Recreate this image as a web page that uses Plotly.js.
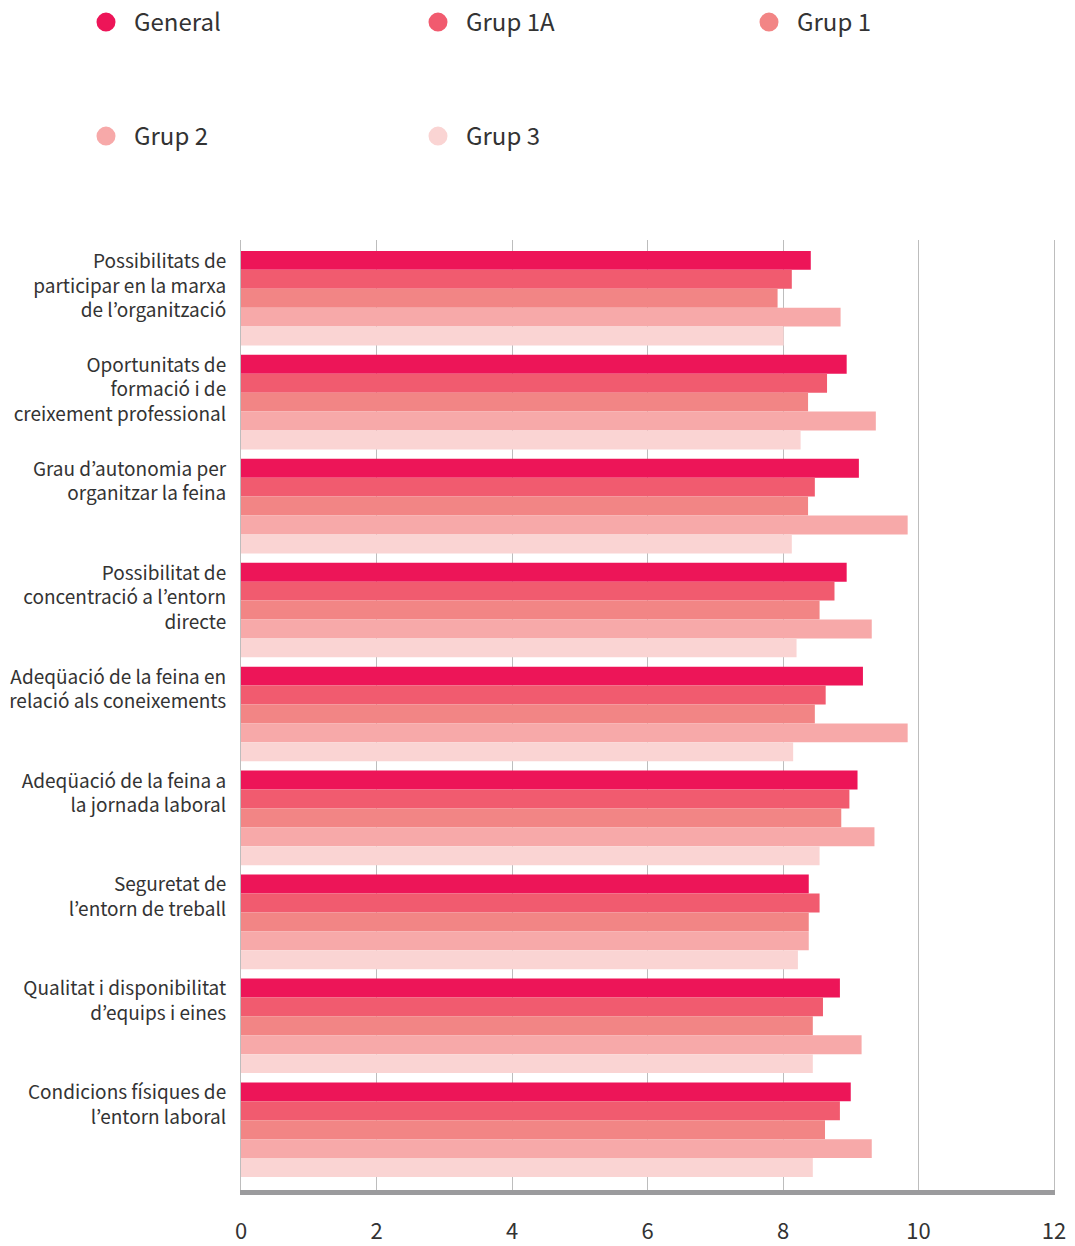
<!DOCTYPE html>
<html><head><meta charset="utf-8">
<script src="https://cdn.plot.ly/plotly-3.0.1.min.js"></script>
<style>html,body{margin:0;padding:0;background:#fff}#chart{width:1075px;height:1246px}</style>
</head><body><div id="chart"></div>
<script>
const categories = [
  "Possibilitats de<br>participar en la marxa<br>de l’organització",
  "Oportunitats de<br>formació i de<br>creixement professional",
  "Grau d’autonomia per<br>organitzar la feina",
  "Possibilitat de<br>concentració a l’entorn<br>directe",
  "Adeqüació de la feina en<br>relació als coneixements",
  "Adeqüació de la feina a<br>la jornada laboral",
  "Seguretat de<br>l’entorn de treball",
  "Qualitat i disponibilitat<br>d’equips i eines",
  "Condicions físiques de<br>l’entorn laboral"
];
const seriesNames = ["General", "Grup 1A", "Grup 1", "Grup 2", "Grup 3"];
const general = [8.41, 8.94, 9.12, 8.94, 9.18, 9.10, 8.38, 8.84, 9.00];
const grup1A  = [8.13, 8.65, 8.47, 8.76, 8.63, 8.98, 8.54, 8.59, 8.84];
const grup1   = [7.92, 8.37, 8.37, 8.54, 8.47, 8.86, 8.38, 8.44, 8.62];
const grup2   = [8.85, 9.37, 9.84, 9.31, 9.84, 9.35, 8.38, 9.16, 9.31];
const grup3   = [8.01, 8.26, 8.13, 8.20, 8.15, 8.54, 8.22, 8.44, 8.44];
const xTickVals = [0, 2, 4, 6, 8, 10, 12];

const colors = ["#ED1558", "#F15B6F", "#F28585", "#F7A9A9", "#FAD4D3"];
const values = [general, grup1A, grup1, grup2, grup3];
const legendFor = ["legend", "legend", "legend3", "legend2", "legend2"];

const FONT = '"Noto Sans CJK KR", "Noto Sans", sans-serif';

// pad labels to 4 lines so they sit at the top of each group
const tickText = categories.map(c => {
  const n = c.split("<br>").length;
  let s = c;
  for (let i = n; i < 4; i++) s += "<br>&nbsp;";
  return s;
});

const traces = [];
values.forEach((v, i) => {
  traces.push({
    type: "bar", orientation: "h", name: seriesNames[i],
    x: v, y: categories, marker: {color: colors[i]},
    showlegend: false, hoverinfo: "skip"
  });
});
values.forEach((v, i) => {
  traces.push({
    type: "scatter", mode: "markers", name: seriesNames[i],
    x: [null], y: [null], legend: legendFor[i],
    marker: {color: colors[i], size: 16, symbol: "circle", line: {color: colors[i], width: 3}},
    hoverinfo: "skip"
  });
});

const legendCommon = {
  orientation: "h", xref: "container", yref: "container",
  x: 78/1075, xanchor: "left", yanchor: "top",
  itemwidth: 46,
  entrywidth: 271, entrywidthmode: "pixels",
  font: {family: FONT, size: 24, color: "#333"},
  bgcolor: "rgba(0,0,0,0)", itemclick: false, itemdoubleclick: false
};

const layout = {
  width: 1075, height: 1246,
  paper_bgcolor: "#fff", plot_bgcolor: "#fff",
  margin: {l: 241, r: 21, t: 240, b: 56},
  barmode: "group", bargap: 0.09, bargroupgap: 0,
  showlegend: true,
  legend: Object.assign({}, legendCommon, {y: 1 - 0/1246}),
  legend3: Object.assign({}, legendCommon, {x: 741/1075, y: 1 - 0/1246}),
  legend2: Object.assign({}, legendCommon, {y: 1 - 114/1246}),
  xaxis: {
    range: [0, 12], tickvals: xTickVals, ticktext: xTickVals.map(String),
    showgrid: true, gridcolor: "#bdbdbd", gridwidth: 1,
    zeroline: false, showline: true, linecolor: "#9b9b9d", linewidth: 5,
    ticks: "", ticklabelstandoff: 18, automargin: false,
    tickfont: {family: FONT, size: 22, color: "#333"}, fixedrange: true
  },
  yaxis: {
    type: "category", range: [8.58, -0.56],
    tickvals: categories, ticktext: tickText,
    showgrid: false, zeroline: false,
    showline: true, mirror: true, linecolor: "#bdbdbd", linewidth: 1,
    ticks: "", ticklabelstandoff: 10, automargin: false,
    tickfont: {family: FONT, size: 19, color: "#333"}, fixedrange: true
  },
  font: {family: FONT, color: "#333"}
};

Plotly.newPlot("chart", traces, layout, {displayModeBar: false, staticPlot: true});
</script>
</body></html>
